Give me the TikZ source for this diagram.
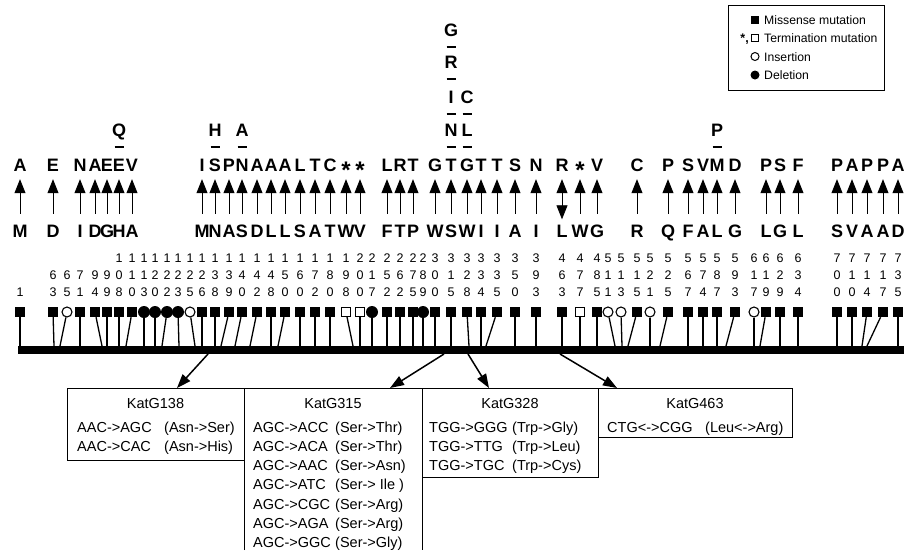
\documentclass[tikz,border=0pt]{standalone}
\usepackage{fontspec}
\setmainfont{Liberation Sans}
\usetikzlibrary{arrows.meta}
\newcommand\mstar{\raisebox{-7pt}{\fontsize{24}{24}\selectfont *}}
\begin{document}
\begin{tikzpicture}[x=1pt,y=-1pt,
  aal/.style={font=\fontsize{18}{18}\selectfont\bfseries, inner sep=0pt, text height=13pt, text depth=0pt, anchor=base},
  num/.style={font=\fontsize{12.5}{12.5}\selectfont, inner sep=0pt, anchor=base},
  sqm/.style={fill=black, minimum size=10pt, inner sep=0pt},
  osqm/.style={draw=black, fill=white, line width=1.1pt, minimum size=9pt, inner sep=0pt},
  ocm/.style={circle, draw=black, fill=white, line width=1.1pt, minimum size=10pt, inner sep=0pt},
  fcm/.style={circle, fill=black, minimum size=12pt, inner sep=0pt},
  stem/.style={line width=1.3pt},
  mutarrow/.style={line width=0.8pt, -{Triangle[width=11pt,length=14pt]}, shorten <=10.5pt, shorten >=7.5pt},
  dblarrow/.style={line width=0.8pt, {Triangle[width=11pt,length=14pt]}-{Triangle[width=11pt,length=14pt]}, shorten <=5pt, shorten >=7.5pt},
  ebar/.style={line width=1.2pt},
  boxr/.style={draw=black, line width=1pt, inner sep=0pt},
  btxt/.style={font=\fontsize{14.5}{14.5}\selectfont, inner sep=0pt},
  boxarrow/.style={line width=1.5pt, -{Triangle[width=10pt,length=14pt]}},
  legtxt/.style={font=\fontsize{12.2}{12.2}\selectfont, inner sep=0pt, anchor=base west}
]
\useasboundingbox (0,0) rectangle (906,550);
\fill[white] (0,0) rectangle (906,550);

% ---------- amino-acid letters and arrows ----------
\foreach \x/\w/\m in {20/M/A,53/D/E,80/I/N,95/D/A,107/G/E,119/H/E,132/A/V,202/M/I,215/N/S,229/A/P,242/S/N,257/D/A,271/L/A,285/L/A,300/S/L,315/A/T,330/T/C,346/W/\mstar,360/V/\mstar,387/F/L,400/T/R,413/P/T,435/W/G,451/S/T,467/W/G,481/I/T,497/I/T,515/A/S,536/I/N,580/W/\mstar,597/G/V,637/R/C,668/Q/P,688/F/S,703/A/V,717/L/M,735/G/D,766/L/P,780/G/S,798/L/F,837/S/P,852/V/A,867/A/P,883/A/P,898/D/A}{
  \node[aal] (w\x) at (\x,237.5) {\w};
  \node[aal] (m\x) at (\x,171.5) {\m};
  \draw[mutarrow] (w\x) -- (m\x);
}
\node[aal] (w562) at (562,237.5) {L};
\node[aal] (m562) at (562,171.5) {R};
\draw[dblarrow] (w562) -- (m562);

% ---------- additional substitutions ----------
\foreach \x/\y/\l/\n in {119/136.5/Q/q119,215/136.5/H/h215,242/136.5/A/a242,717/136.5/P/p717,
  451/136.5/N/n451,451/103.5/I/i451,451/68.5/R/r451,451/36.5/G/g451,467/136.5/L/l467,467/103.5/C/c467}{
  \node[aal] (\n) at (\x,\y) {\l};
  \draw[ebar] (\x-4.5,\y+10.5) -- (\x+4.5,\y+10.5);
}

% ---------- residue numbers ----------
\foreach \x/\n in {20/1,53/63,67/65,80/71,95/94,107/99,119/108,132/110,144/113,155/120,167/122,178/123,190/125,202/126,215/138,229/139,242/140,257/142,271/148,285/150,300/160,315/172,330/180,346/198,360/200,372/217,387/252,400/262,413/275,423/289,435/300,451/315,467/328,481/334,497/335,515/350,536/393,562/463,580/477,597/485,608/511,621/513,637/515,650/521,668/525,688/567,703/574,717/587,735/593,754/617,766/619,780/629,798/634,837/700,852/710,867/714,883/717,898/735}{
  \edef\ten{\the\numexpr(\n-5)/10\relax}
  \edef\hun{\the\numexpr(\n-50)/100\relax}
  \node[num] (nu\x) at (\x,296.5) {\the\numexpr\n-10*\ten\relax};
  \ifnum\n>9 \node[num] (nt\x) at (\x,279.5) {\the\numexpr\ten-10*\hun\relax};\fi
  \ifnum\n>99 \node[num] (nh\x) at (\x,262.5) {\hun};\fi
}

% ---------- gene bar ----------
\node[fill=black, minimum width=886pt, minimum height=8pt, inner sep=0pt, anchor=west] (bar) at (18,349.5) {};

% ---------- markers and stems ----------
\foreach \x/\s in {20/20,53/54,80/80,95/102,107/107,119/119,132/126,202/202,215/215,229/221,242/235,257/250,271/271,285/278,300/300,315/315,330/330,387/387,400/400,413/413,435/435,451/451,467/469,481/481,497/486,515/515,536/536,562/562,597/597,637/628,668/660,688/688,703/703,717/717,735/726,766/760,780/780,798/798,837/837,852/852,867/862,883/867,898/898}{
  \node[sqm] (mk\x) at (\x,312) {};
  \coordinate (bt\x) at (\s,346);
  \draw[stem] (mk\x) -- (bt\x);
}
\foreach \x/\s in {346/353,360/360,580/580}{
  \node[osqm] (mk\x) at (\x,312) {};
  \coordinate (bt\x) at (\s,346);
  \draw[stem] (mk\x) -- (bt\x);
}
\foreach \x/\s in {67/60,190/195,608/615,621/622,650/650,754/754}{
  \node[ocm] (mk\x) at (\x,312) {};
  \coordinate (bt\x) at (\s,346);
  \draw[stem] (mk\x) -- (bt\x);
}
\foreach \x/\s in {144/144,155/155,167/162,178/179,372/372,423/423}{
  \node[fcm] (mk\x) at (\x,312) {};
  \coordinate (bt\x) at (\s,346);
  \draw[stem] (mk\x) -- (bt\x);
}

% ---------- boxes ----------
\node[boxr, minimum width=177pt, minimum height=72pt, anchor=north west] (box1) at (67,388) {};
\coordinate (b2bl) at (244,550);
\coordinate (b2tl) at (244,388);
\coordinate (b2tr) at (422,388);
\coordinate (b2br) at (422,550);
\draw[line width=1pt] (b2bl) -- (b2tl) -- (b2tr) -- (b2br);
\node[boxr, minimum width=176pt, minimum height=89pt, anchor=north west] (box3) at (422,388) {};
\node[boxr, minimum width=194pt, minimum height=49pt, anchor=north west] (box4) at (598,388) {};

\node[btxt, anchor=base] (k138) at (155.5,408.2) {KatG138};
\node[btxt, anchor=base] (k315) at (333,408.2) {KatG315};
\node[btxt, anchor=base] (k328) at (510,408.2) {KatG328};
\node[btxt, anchor=base] (k463) at (695,408.2) {KatG463};

\foreach \c/\a [count=\i] in {AAC->AGC/Asn->Ser,AAC->CAC/Asn->His}{
  \node[btxt, anchor=base west] (b1c\i) at (77,{432.2+19.2*(\i-1)}) {\c};
  \node[btxt, anchor=base west] (b1a\i) at (164,{432.2+19.2*(\i-1)}) {(\a)};
}
\foreach \c/\a [count=\i] in {AGC->ACC/Ser->Thr,AGC->ACA/Ser->Thr,AGC->AAC/Ser->Asn,AGC->ATC/Ser-> Ile ,AGC->CGC/Ser->Arg,AGC->AGA/Ser->Arg,AGC->GGC/Ser->Gly}{
  \node[btxt, anchor=base west] (b2c\i) at (253,{432.2+19.2*(\i-1)}) {\c};
  \node[btxt, anchor=base west] (b2a\i) at (335,{432.2+19.2*(\i-1)}) {(\a)};
}
\foreach \c/\a [count=\i] in {TGG->GGG/Trp->Gly,TGG->TTG/Trp->Leu,TGG->TGC/Trp->Cys}{
  \node[btxt, anchor=base west] (b3c\i) at (429,{432.2+19.2*(\i-1)}) {\c};
  \node[btxt, anchor=base west] (b3a\i) at (512,{432.2+19.2*(\i-1)}) {(\a)};
}
\node[btxt, anchor=base west] (b4c1) at (607,432.2) {CTG<->CGG};
\node[btxt, anchor=base west] (b4a1) at (705,432.2) {(Leu<->Arg)};

% ---------- arrows from gene to boxes ----------
\coordinate (s1) at (208,354); \coordinate (t1) at (177,388);
\coordinate (s2) at (444,354); \coordinate (t2) at (390,388);
\coordinate (s3) at (468,354); \coordinate (t3) at (489,388);
\coordinate (s4) at (560,354); \coordinate (t4) at (617,388);
\draw[boxarrow] (s1) -- (t1);
\draw[boxarrow] (s2) -- (t2);
\draw[boxarrow] (s3) -- (t3);
\draw[boxarrow] (s4) -- (t4);

% ---------- legend ----------
\node[boxr, minimum width=156pt, minimum height=85pt, anchor=north west] (legend) at (728,5) {};
\node[fill=black, minimum size=8pt, inner sep=0pt] (lg1) at (755,19.5) {};
\node[draw=black, fill=white, line width=1pt, minimum size=7.5pt, inner sep=0pt] (lg2) at (755,38) {};
\node[font=\fontsize{12.5}{12.5}\selectfont\bfseries, inner sep=0pt, anchor=base east] (lg2s) at (749,42.5) {*,};
\node[circle, draw=black, fill=white, line width=1pt, minimum size=8pt, inner sep=0pt] (lg3) at (755,56.5) {};
\node[circle, fill=black, minimum size=9pt, inner sep=0pt] (lg4) at (755,75) {};
\node[legtxt] (lt1) at (764,24) {Missense mutation};
\node[legtxt] (lt2) at (764,42.5) {Termination mutation};
\node[legtxt] (lt3) at (764,61) {Insertion};
\node[legtxt] (lt4) at (764,79.5) {Deletion};
\end{tikzpicture}
\end{document}
